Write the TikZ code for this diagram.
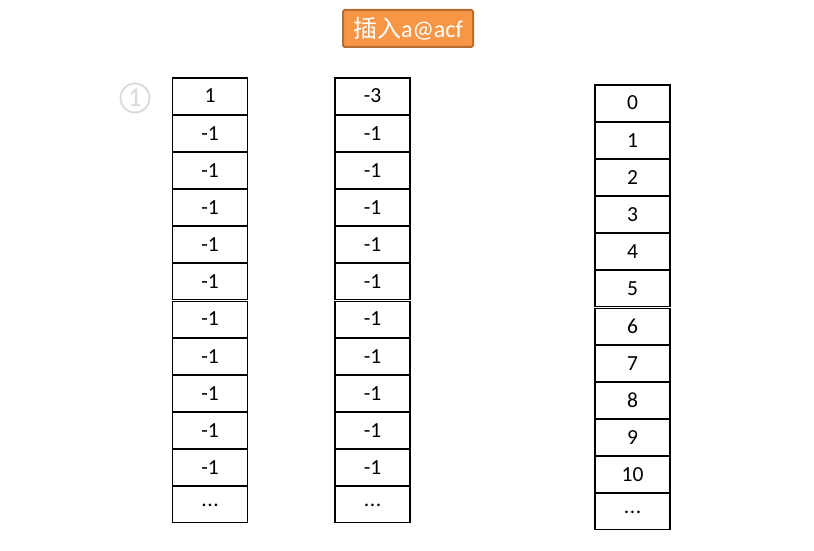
\documentclass[tikz,border=0pt]{standalone}
\usepackage{fontspec}
\setmainfont{Carlito}
\newfontfamily\cjk{Noto Sans CJK SC}
\definecolor{orfill}{HTML}{F79646}
\definecolor{ordraw}{HTML}{B66D31}
\definecolor{circgray}{HTML}{D9D9D9}
\newcommand\mydots{.\kern0.6pt.\kern0.6pt.}
\begin{document}
\begin{tikzpicture}[x=1pt,y=-1pt,
  cell/.style={draw=black,line width=1.1pt,minimum width=75pt,minimum height=36pt,inner sep=0pt,font=\fontsize{21.5}{21.5}\selectfont,anchor=north},
  title/.style={draw=ordraw,line width=2pt,fill=orfill,rounded corners=1.5pt,minimum width=130pt,minimum height=37pt,text=white,font=\fontsize{24}{24}\selectfont,inner sep=0pt},
  step1/.style={circle,draw=circgray,line width=1.8pt,minimum size=29pt,inner sep=0pt,text=circgray,font=\fontsize{27}{27}\selectfont}]
\useasboundingbox (0,0) rectangle (814,551);
\node[title] (t) at (408,28.5) {\cjk 插入\rmfamily a@acf};
\node[step1] (s) at (135,98) {1};
\foreach \v [count=\i from 0] in {1,-1,-1,-1,-1,-1,-1,-1,-1,-1,-1,\mydots}{
  \node[cell] (a\i) at (210,77+37.17*\i+0.5) {\v};
}
\foreach \v [count=\i from 0] in {-3,-1,-1,-1,-1,-1,-1,-1,-1,-1,-1,\mydots}{
  \node[cell] (b\i) at (372.5,77+37.17*\i+0.5) {\v};
}
\foreach \v [count=\i from 0] in {0,1,2,3,4,5,6,7,8,9,10,\mydots}{
  \node[cell] (c\i) at (632.5,84+37.17*\i+0.5) {\v};
}
\end{tikzpicture}
\end{document}
